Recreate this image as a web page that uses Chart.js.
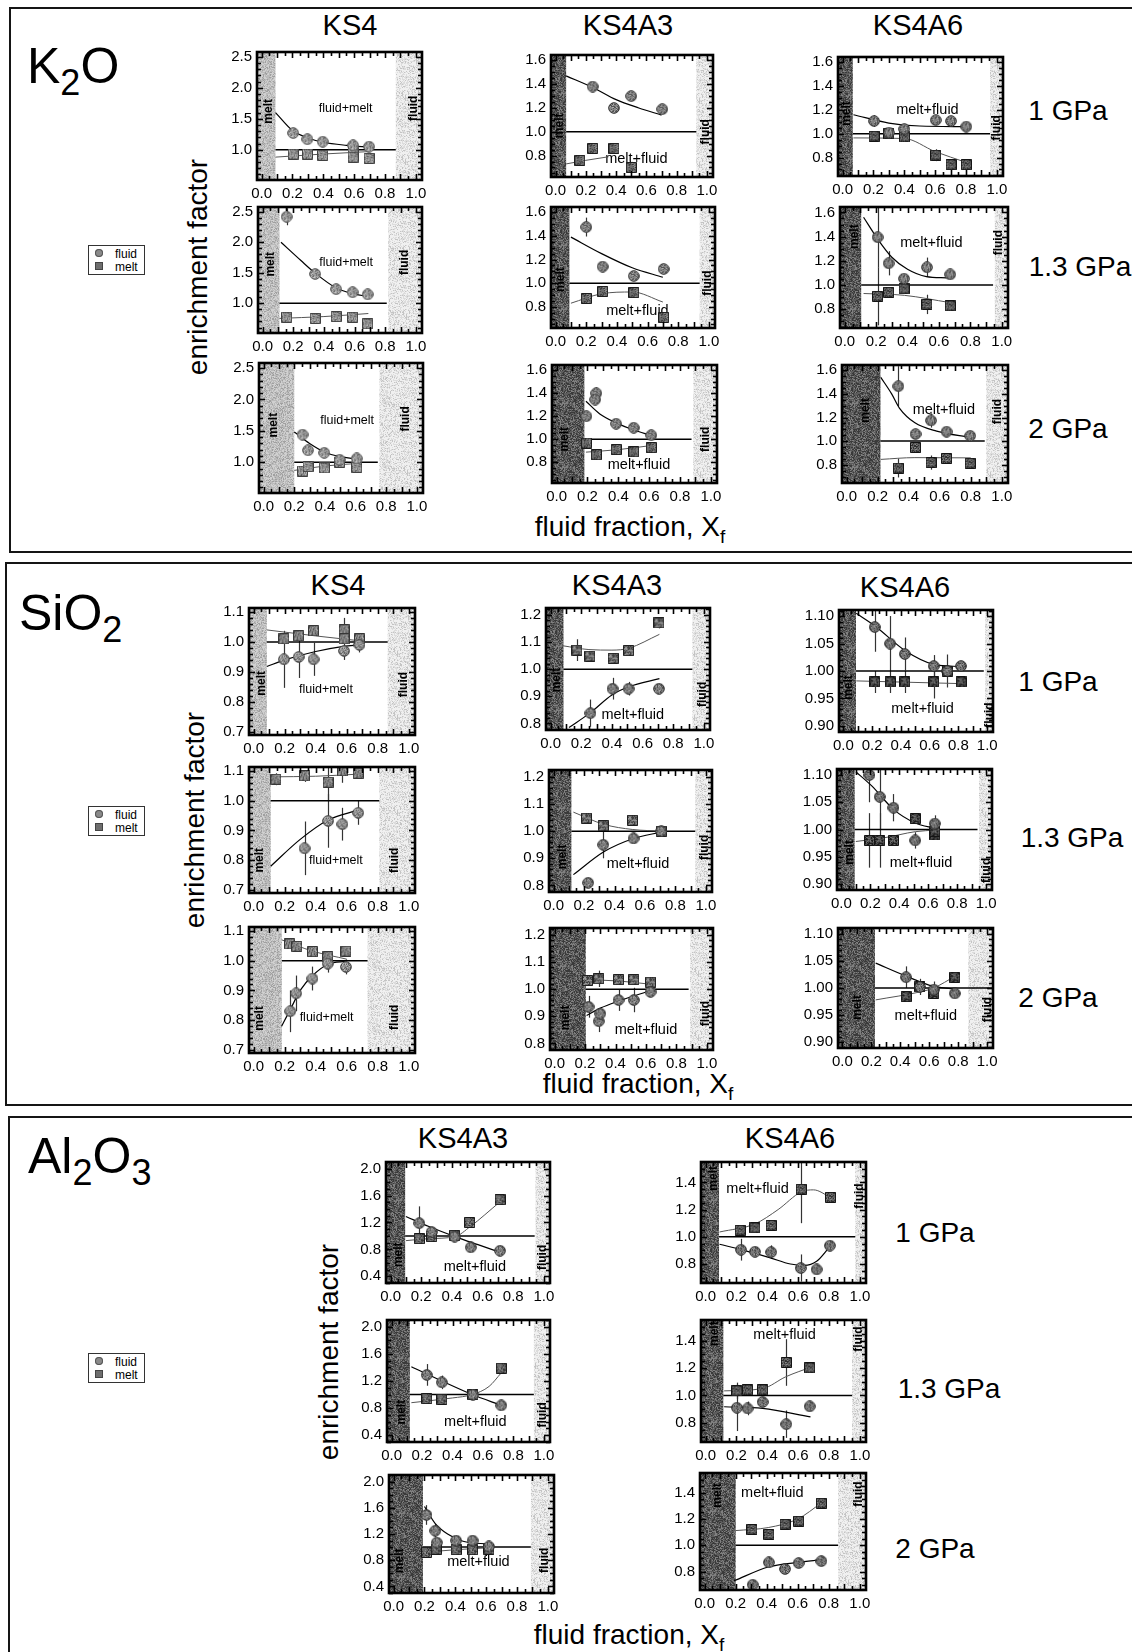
<!DOCTYPE html>
<html>
<head>
<meta charset="utf-8">
<script src="https://cdn.jsdelivr.net/npm/chart.js@4.4.1/dist/chart.umd.min.js"></script>
<style>
  body { margin: 0; background: #fff; width: 1132px; height: 1652px; position: relative; overflow: hidden;
         font-family: "Liberation Sans", Arial, Helvetica, sans-serif; color: #000; }
  .sec { position: absolute; border: 2px solid #151515; }
  .txt { position: absolute; white-space: nowrap; line-height: 1; }
  .txt sub { line-height: 0; }
  canvas { position: absolute; }
  .legend { position: absolute; width: 55px; height: 28px; border: 1px solid #333; font-size: 12px; }
  .legend div { position: absolute; left: 26px; line-height: 1; }
  .legend span { position: absolute; width: 8px; height: 8px; left: 6px; }
  .lc { background: #8a8a8a; border-radius: 50%; box-shadow: inset 0 0 0 1px #555; }
  .ls { background: #6e6e6e; box-shadow: inset 0 0 0 1px #444; }
</style>
</head>
<body>
<script>
const FONT = '"Liberation Sans", Arial, Helvetica, sans-serif';

// ---- shared axes ----
const X_RANGE = [-0.03, 1.04];
const X_TICKS = [0, 0.2, 0.4, 0.6, 0.8, 1.0];
const PRESSURES = ['1 GPa', '1.3 GPa', '2 GPa'];

const K2O_KS4_Y = [0.51, 2.58];
const K2O_KS4_TICKS = [1.0, 1.5, 2.0, 2.5];
const K2O_KS4A3_Y = [0.62, 1.645];
const K2O_KS4A6_Y = [0.645, 1.645];
const K2O_A_TICKS = [0.8, 1.0, 1.2, 1.4, 1.6];
const SIO2_KS4_Y = [0.69, 1.113];
const SIO2_KS4_TICKS = [0.7, 0.8, 0.9, 1.0, 1.1];
const SIO2_KS4A3_Y = [0.776, 1.225];
const SIO2_KS4A3_TICKS = [0.8, 0.9, 1.0, 1.1, 1.2];
const SIO2_KS4A6_Y = [0.889, 1.111];
const SIO2_KS4A6_TICKS = [0.90, 0.95, 1.00, 1.05, 1.10];
const AL2O3_KS4A3_Y = [0.30, 2.10];
const AL2O3_KS4A3_TICKS = [0.4, 0.8, 1.2, 1.6, 2.0];
const AL2O3_KS4A6_Y = [0.66, 1.55];
const AL2O3_KS4A6_TICKS = [0.8, 1.0, 1.2, 1.4];

// ---- data: FIELD = [melt field ends, fluid field starts, line y=1 ends]
// ---- points are [x, enrichment, error]

// K2O / KS4
const K2O_KS4_1_FIELD = [0.09, 0.87, 0.87];
const K2O_KS4_1_FLUID = [[0.205, 1.27], [0.297, 1.17], [0.396, 1.13], [0.593, 1.07], [0.697, 1.05]];
const K2O_KS4_1_MELT = [[0.205, 0.93], [0.297, 0.93], [0.396, 0.91], [0.593, 0.95], [0.593, 0.88], [0.697, 0.86]];
const K2O_KS4_1_FLUID_FIT = [[0.09, 1.60], [0.2, 1.31], [0.3, 1.19], [0.4, 1.12], [0.55, 1.07], [0.7, 1.04]];
const K2O_KS4_1_MELT_FIT = [[0.09, 0.88], [0.4, 0.93], [0.7, 0.97]];

const K2O_KS4_13_FIELD = [0.11, 0.82, 0.81];
const K2O_KS4_13_FLUID = [[0.157, 2.42, 0.14], [0.343, 1.48, 0.06], [0.48, 1.23], [0.587, 1.18], [0.686, 1.145]];
const K2O_KS4_13_MELT = [[0.157, 0.77], [0.343, 0.75], [0.48, 0.78], [0.587, 0.77], [0.686, 0.66]];
const K2O_KS4_13_FLUID_FIT = [[0.12, 2.0], [0.25, 1.7], [0.34, 1.5], [0.48, 1.25], [0.6, 1.15], [0.69, 1.11]];
const K2O_KS4_13_MELT_FIT = [[0.11, 0.75], [0.4, 0.78], [0.69, 0.83]];

const K2O_KS4_2_FIELD = [0.2, 0.755, 0.745];
const K2O_KS4_2_FLUID = [[0.254, 1.44], [0.29, 1.19], [0.396, 1.15, 0.05], [0.496, 1.04], [0.608, 1.06]];
const K2O_KS4_2_MELT = [[0.254, 0.86], [0.29, 0.93], [0.396, 0.91], [0.496, 1.0], [0.608, 0.92]];
const K2O_KS4_2_FLUID_FIT = [[0.2, 1.48], [0.3, 1.3], [0.4, 1.16], [0.5, 1.09], [0.61, 1.05]];
const K2O_KS4_2_MELT_FIT = [[0.2, 0.87], [0.4, 0.94], [0.61, 0.98]];

// K2O / KS4A3
const K2O_KS4A3_1_FIELD = [0.07, 0.93, 0.93];
const K2O_KS4A3_1_FLUID = [[0.245, 1.38], [0.386, 1.20], [0.5, 1.30], [0.705, 1.19]];
const K2O_KS4A3_1_MELT = [[0.16, 0.76], [0.245, 0.86], [0.386, 0.86], [0.5, 0.70]];
const K2O_KS4A3_1_FLUID_FIT = [[0.07, 1.47], [0.25, 1.37], [0.4, 1.27], [0.55, 1.2], [0.7, 1.14]];
const K2O_KS4A3_1_MELT_FIT = [[0.07, 0.73], [0.2, 0.76], [0.35, 0.79]];

const K2O_KS4A3_13_FIELD = [0.09, 0.94, 0.94];
const K2O_KS4A3_13_FLUID = [[0.2, 1.475, 0.08], [0.307, 1.14, 0.04], [0.51, 1.06], [0.705, 1.12]];
const K2O_KS4A3_13_MELT = [[0.2, 0.87], [0.307, 0.93], [0.51, 0.92], [0.705, 0.71]];
const K2O_KS4A3_13_FLUID_FIT = [[0.1, 1.39], [0.3, 1.25], [0.5, 1.13], [0.7, 1.05]];
const K2O_KS4A3_13_MELT_FIT = [[0.1, 0.83], [0.3, 0.91], [0.5, 0.925], [0.7, 0.84]];

const K2O_KS4A3_2_FIELD = [0.18, 0.886, 0.875];
const K2O_KS4A3_2_FLUID = [[0.193, 1.2], [0.257, 1.4, 0.05], [0.25, 1.345], [0.386, 1.135], [0.5, 1.10], [0.614, 1.035]];
const K2O_KS4A3_2_MELT = [[0.193, 0.967], [0.257, 0.865], [0.386, 0.91], [0.5, 0.89], [0.614, 0.927]];
const K2O_KS4A3_2_FLUID_FIT = [[0.19, 1.33], [0.28, 1.22], [0.39, 1.14], [0.5, 1.08], [0.61, 1.035]];
const K2O_KS4A3_2_MELT_FIT = [[0.19, 0.888], [0.4, 0.91], [0.61, 0.945]];

// K2O / KS4A6
const K2O_KS4A6_1_FIELD = [0.066, 0.956, 0.956];
const K2O_KS4A6_1_FLUID = [[0.204, 1.107, 0.05], [0.30, 1.01], [0.40, 1.04], [0.604, 1.115], [0.703, 1.107], [0.802, 1.06]];
const K2O_KS4A6_1_MELT = [[0.204, 0.98], [0.3, 1.0], [0.402, 0.973], [0.604, 0.82, 0.05], [0.703, 0.74], [0.802, 0.74]];
const K2O_KS4A6_1_FLUID_FIT = [[0.07, 1.16], [0.3, 1.09], [0.5, 1.065], [0.8, 1.06]];
const K2O_KS4A6_1_MELT_FIT = [[0.07, 0.965], [0.4, 0.96], [0.6, 0.85], [0.8, 0.76]];

const K2O_KS4A6_13_FIELD = [0.105, 0.956, 0.945];
const K2O_KS4A6_13_FLUID = [[0.21, 1.395, 0.25], [0.28, 1.18, 0.1], [0.378, 1.053], [0.524, 1.147, 0.08], [0.672, 1.088]];
const K2O_KS4A6_13_MELT = [[0.21, 0.907, 0.24], [0.28, 0.94], [0.378, 0.968], [0.524, 0.84, 0.08], [0.672, 0.827]];
const K2O_KS4A6_13_FLUID_FIT = [[0.12, 1.56], [0.21, 1.38], [0.3, 1.23], [0.4, 1.13], [0.52, 1.07], [0.65, 1.06]];
const K2O_KS4A6_13_MELT_FIT = [[0.12, 0.93], [0.38, 0.915], [0.67, 0.855]];

const K2O_KS4A6_2_FIELD = [0.218, 0.9, 0.89];
const K2O_KS4A6_2_FLUID = [[0.333, 1.465, 0.17], [0.444, 1.06], [0.544, 1.175, 0.06], [0.644, 1.08], [0.796, 1.045]];
const K2O_KS4A6_2_MELT = [[0.333, 0.772, 0.08], [0.444, 0.946], [0.544, 0.818, 0.06], [0.644, 0.853], [0.796, 0.812]];
const K2O_KS4A6_2_FLUID_FIT = [[0.22, 1.54], [0.29, 1.4], [0.34, 1.28], [0.44, 1.155], [0.58, 1.085], [0.8, 1.03]];
const K2O_KS4A6_2_MELT_FIT = [[0.22, 0.845], [0.44, 0.86], [0.8, 0.858]];

// SiO2 / KS4
const SIO2_KS4_1_FIELD = [0.085, 0.864, 0.864];
const SIO2_KS4_1_FLUID = [[0.195, 0.942, 0.095], [0.29, 0.95, 0.07], [0.386, 0.942, 0.055], [0.583, 0.97, 0.03], [0.682, 0.99, 0.025]];
const SIO2_KS4_1_MELT = [[0.195, 1.01], [0.29, 1.02], [0.386, 1.037], [0.583, 1.04, 0.04], [0.583, 1.01], [0.682, 1.01]];
const SIO2_KS4_1_FLUID_FIT = [[0.085, 0.918], [0.2, 0.94], [0.4, 0.968], [0.58, 0.985], [0.68, 0.99]];
const SIO2_KS4_1_MELT_FIT = [[0.085, 1.04], [0.4, 1.02], [0.68, 1.004]];

const SIO2_KS4_13_FIELD = [0.11, 0.81, 0.81];
const SIO2_KS4_13_FLUID = [[0.328, 0.84, 0.09], [0.48, 0.932, 0.09], [0.572, 0.921, 0.055], [0.674, 0.959, 0.04]];
const SIO2_KS4_13_MELT = [[0.144, 1.072, 0.02], [0.328, 1.083, 0.02], [0.48, 1.062, 0.06], [0.572, 1.1, 0.04], [0.674, 1.092]];
const SIO2_KS4_13_FLUID_FIT = [[0.11, 0.78], [0.3, 0.87], [0.48, 0.935], [0.67, 0.968]];
const SIO2_KS4_13_MELT_FIT = [[0.117, 1.08], [0.4, 1.082], [0.674, 1.089]];

const SIO2_KS4_2_FIELD = [0.182, 0.734, 0.734];
const SIO2_KS4_2_FLUID = [[0.236, 0.83, 0.07], [0.274, 0.89, 0.06], [0.379, 0.94, 0.04], [0.478, 0.99, 0.03], [0.595, 0.979, 0.025]];
const SIO2_KS4_2_MELT = [[0.231, 1.056], [0.278, 1.048], [0.379, 1.03], [0.478, 1.013], [0.595, 1.032]];
const SIO2_KS4_2_FLUID_FIT = [[0.18, 0.78], [0.24, 0.84], [0.3, 0.9], [0.38, 0.95], [0.48, 0.988], [0.6, 0.998]];
const SIO2_KS4_2_MELT_FIT = [[0.18, 1.07], [0.38, 1.032], [0.6, 1.005]];

// SiO2 / KS4A3
const SIO2_KS4A3_1_FIELD = [0.084, 0.925, 0.925];
const SIO2_KS4A3_1_FLUID = [[0.26, 0.838, 0.05], [0.404, 0.928, 0.04], [0.509, 0.928, 0.025], [0.707, 0.928]];
const SIO2_KS4A3_1_MELT = [[0.172, 1.07, 0.04], [0.256, 1.048], [0.408, 1.04], [0.509, 1.068], [0.707, 1.17, 0.02]];
const SIO2_KS4A3_1_FLUID_FIT = [[0.12, 0.785], [0.26, 0.84], [0.4, 0.905], [0.51, 0.935], [0.71, 0.965]];
const SIO2_KS4A3_1_MELT_FIT = [[0.08, 1.086], [0.25, 1.072], [0.4, 1.07], [0.51, 1.077], [0.71, 1.128]];

const SIO2_KS4A3_13_FIELD = [0.117, 0.93, 0.93];
const SIO2_KS4A3_13_FLUID = [[0.227, 0.81], [0.326, 0.95, 0.05], [0.525, 0.973, 0.02], [0.707, 1.0]];
const SIO2_KS4A3_13_MELT = [[0.216, 1.048], [0.326, 1.02], [0.518, 1.04], [0.707, 1.0]];
const SIO2_KS4A3_13_FLUID_FIT = [[0.13, 0.84], [0.33, 0.924], [0.52, 0.972], [0.71, 0.997]];
const SIO2_KS4A3_13_MELT_FIT = [[0.13, 1.07], [0.33, 1.025], [0.52, 1.006], [0.71, 1.0]];

const SIO2_KS4A3_2_FIELD = [0.205, 0.89, 0.88];
const SIO2_KS4A3_2_FLUID = [[0.223, 0.935, 0.04], [0.29, 0.882, 0.04], [0.3, 0.91], [0.42, 0.96, 0.04], [0.52, 0.96, 0.045], [0.63, 0.99]];
const SIO2_KS4A3_2_MELT = [[0.216, 1.032], [0.29, 1.038, 0.03], [0.42, 1.035], [0.52, 1.035], [0.63, 1.026]];
const SIO2_KS4A3_2_FLUID_FIT = [[0.21, 0.903], [0.3, 0.93], [0.42, 0.956], [0.63, 0.995]];
const SIO2_KS4A3_2_MELT_FIT = [[0.2, 1.035], [0.42, 1.03], [0.63, 1.018]];

// SiO2 / KS4A6
const SIO2_KS4A6_1_FIELD = [0.088, 0.985, 0.976];
const SIO2_KS4A6_1_FLUID = [[0.218, 1.08, 0.045], [0.325, 1.05, 0.05], [0.427, 1.031, 0.03], [0.628, 1.009, 0.02], [0.723, 1.0, 0.03], [0.818, 1.009]];
const SIO2_KS4A6_1_MELT = [[0.218, 0.98, 0.02], [0.325, 0.98, 0.02], [0.427, 0.98, 0.02], [0.628, 0.98, 0.03], [0.723, 1.0], [0.818, 0.98]];
const SIO2_KS4A6_1_FLUID_FIT = [[0.09, 1.105], [0.22, 1.082], [0.43, 1.037], [0.63, 1.012], [0.82, 1.008]];
const SIO2_KS4A6_1_MELT_FIT = [[0.09, 0.982], [0.82, 0.977]];

const SIO2_KS4A6_13_FIELD = [0.092, 0.95, 0.94];
const SIO2_KS4A6_13_FLUID = [[0.194, 1.10, 0.05], [0.265, 1.06, 0.06], [0.36, 1.04, 0.025], [0.51, 0.98, 0.015], [0.645, 1.011, 0.015]];
const SIO2_KS4A6_13_MELT = [[0.194, 0.98, 0.05], [0.265, 0.98, 0.05], [0.36, 0.98], [0.51, 1.02, 0.01], [0.645, 0.99], [0.645, 0.997]];
const SIO2_KS4A6_13_FLUID_FIT = [[0.1, 1.106], [0.21, 1.08], [0.36, 1.037], [0.51, 1.012], [0.65, 1.002]];
const SIO2_KS4A6_13_MELT_FIT = [[0.1, 0.978], [0.3, 0.985], [0.51, 0.996], [0.65, 0.999]];

const SIO2_KS4A6_2_FIELD = [0.225, 0.87, 1.04];
const SIO2_KS4A6_2_FLUID = [[0.44, 1.02, 0.02], [0.536, 1.002, 0.015], [0.631, 0.997, 0.015], [0.776, 0.99]];
const SIO2_KS4A6_2_MELT = [[0.44, 0.984], [0.536, 1.002], [0.631, 0.99], [0.776, 1.02]];
const SIO2_KS4A6_2_FLUID_FIT = [[0.23, 1.046], [0.44, 1.022], [0.63, 1.003], [0.78, 0.998]];
const SIO2_KS4A6_2_MELT_FIT = [[0.23, 0.978], [0.54, 0.993], [0.63, 1.0], [0.78, 1.022]];

// Al2O3 / KS4A3
const AL2O3_KS4A3_1_FIELD = [0.095, 0.945, 0.94];
const AL2O3_KS4A3_1_FLUID = [[0.187, 1.19, 0.25], [0.268, 1.06], [0.418, 0.99], [0.523, 0.83], [0.714, 0.78]];
const AL2O3_KS4A3_1_MELT = [[0.187, 0.96], [0.268, 0.99], [0.418, 1.01], [0.516, 1.2], [0.714, 1.54]];
const AL2O3_KS4A3_1_FLUID_FIT = [[0.1, 1.29], [0.25, 1.14], [0.42, 0.99], [0.57, 0.87], [0.71, 0.76]];
const AL2O3_KS4A3_1_MELT_FIT = [[0.1, 0.93], [0.25, 0.96], [0.42, 0.99], [0.52, 1.14], [0.71, 1.5]];

const AL2O3_KS4A3_13_FIELD = [0.12, 0.934, 0.934];
const AL2O3_KS4A3_13_FLUID = [[0.231, 1.29, 0.16], [0.33, 1.18, 0.1], [0.534, 1.0], [0.72, 0.84]];
const AL2O3_KS4A3_13_MELT = [[0.231, 0.94], [0.33, 0.93], [0.534, 1.0], [0.72, 1.39]];
const AL2O3_KS4A3_13_FLUID_FIT = [[0.13, 1.41], [0.33, 1.2], [0.53, 1.0], [0.72, 0.84]];
const AL2O3_KS4A3_13_MELT_FIT = [[0.13, 0.88], [0.4, 0.95], [0.53, 1.0], [0.64, 1.12], [0.72, 1.32]];

const AL2O3_KS4A3_2_FIELD = [0.19, 0.89, 0.89];
const AL2O3_KS4A3_2_FLUID = [[0.213, 1.49, 0.15], [0.27, 1.25, 0.1], [0.28, 1.07], [0.405, 1.1], [0.512, 1.1, 0.06], [0.618, 1.01]];
const AL2O3_KS4A3_2_MELT = [[0.213, 0.92], [0.276, 0.97], [0.405, 0.96], [0.512, 0.96], [0.618, 0.97]];
const AL2O3_KS4A3_2_FLUID_FIT = [[0.2, 1.62], [0.27, 1.36], [0.35, 1.2], [0.45, 1.09], [0.62, 1.045]];
const AL2O3_KS4A3_2_MELT_FIT = [[0.2, 0.92], [0.4, 0.96], [0.62, 0.99]];

// Al2O3 / KS4A6
const AL2O3_KS4A6_1_FIELD = [0.087, 0.97, 0.97];
const AL2O3_KS4A6_1_FLUID = [[0.229, 0.905, 0.08], [0.32, 0.89], [0.425, 0.887, 0.05], [0.617, 0.77, 0.1], [0.72, 0.76], [0.806, 0.935]];
const AL2O3_KS4A6_1_MELT = [[0.224, 1.048], [0.32, 1.065], [0.425, 1.084], [0.62, 1.35, 0.25], [0.81, 1.29]];
const AL2O3_KS4A6_1_FLUID_FIT = [[0.09, 0.945], [0.25, 0.9], [0.42, 0.845], [0.55, 0.8], [0.64, 0.79], [0.72, 0.82], [0.8, 0.92]];
const AL2O3_KS4A6_1_MELT_FIT = [[0.09, 1.035], [0.32, 1.095], [0.47, 1.2], [0.62, 1.33], [0.7, 1.345], [0.81, 1.29]];

const AL2O3_KS4A6_13_FIELD = [0.115, 0.95, 0.95];
const AL2O3_KS4A6_13_FLUID = [[0.203, 0.91, 0.17], [0.272, 0.905, 0.05], [0.37, 0.952], [0.523, 0.79, 0.1], [0.675, 0.92]];
const AL2O3_KS4A6_13_MELT = [[0.203, 1.033, 0.06], [0.272, 1.04], [0.37, 1.04], [0.523, 1.24, 0.17], [0.675, 1.2]];
const AL2O3_KS4A6_13_FLUID_FIT = [[0.12, 0.917], [0.37, 0.905], [0.68, 0.843]];
const AL2O3_KS4A6_13_MELT_FIT = [[0.12, 1.033], [0.37, 1.05], [0.52, 1.136], [0.68, 1.205]];

const AL2O3_KS4A6_2_FIELD = [0.2, 0.86, 0.86];
const AL2O3_KS4A6_2_FLUID = [[0.31, 0.7], [0.414, 0.87, 0.04], [0.518, 0.82], [0.606, 0.865], [0.752, 0.88]];
const AL2O3_KS4A6_2_MELT = [[0.305, 1.12], [0.414, 1.083], [0.518, 1.16], [0.606, 1.183], [0.752, 1.32]];
const AL2O3_KS4A6_2_FLUID_FIT = [[0.19, 0.73], [0.41, 0.835], [0.6, 0.87], [0.75, 0.89]];
const AL2O3_KS4A6_2_MELT_FIT = [[0.2, 1.112], [0.41, 1.135], [0.6, 1.2], [0.75, 1.32]];

// ---- axis styles per sample column
const AX = {
  K2O_KS4:     { range: K2O_KS4_Y, ticks: K2O_KS4_TICKS, dec: 1, minor: 5, dark: false, mix: 12.5, mk: [160, 145] },
  K2O_KS4A3:   { range: K2O_KS4A3_Y, ticks: K2O_A_TICKS, dec: 1, minor: 4, dark: true, mix: 14.5, mk: [135, 108] },
  K2O_KS4A6:   { range: K2O_KS4A6_Y, ticks: K2O_A_TICKS, dec: 1, minor: 4, dark: true, mix: 14.5, mk: [130, 98] },
  SIO2_KS4:    { range: SIO2_KS4_Y, ticks: SIO2_KS4_TICKS, dec: 1, minor: 5, dark: false, mix: 12.5, mk: [145, 135] },
  SIO2_KS4A3:  { range: SIO2_KS4A3_Y, ticks: SIO2_KS4A3_TICKS, dec: 1, minor: 5, dark: true, mix: 14.5, mk: [128, 112] },
  SIO2_KS4A6:  { range: SIO2_KS4A6_Y, ticks: SIO2_KS4A6_TICKS, dec: 2, minor: 5, dark: true, mix: 14.5, mk: [118, 78] },
  AL2O3_KS4A3: { range: AL2O3_KS4A3_Y, ticks: AL2O3_KS4A3_TICKS, dec: 1, minor: 4, dark: true, mix: 14.5, mk: [128, 105] },
  AL2O3_KS4A6: { range: AL2O3_KS4A6_Y, ticks: AL2O3_KS4A6_TICKS, dec: 1, minor: 4, dark: true, mix: 14.5, mk: [122, 98] }
};

function panel(ax, box, field, fluid, melt, fluidFit, meltFit, lab) {
  return { ax: AX[ax], box, field, fluid, melt, fluidFit, meltFit, lab };
}

// plot boxes [left, top, right, bottom]; label spots in data units
const PANELS = [
  panel('K2O_KS4', [257, 47, 422, 180], K2O_KS4_1_FIELD, K2O_KS4_1_FLUID, K2O_KS4_1_MELT, K2O_KS4_1_FLUID_FIT, K2O_KS4_1_MELT_FIT,
        { mix: [0.545, 1.67, 'fluid+melt'], melt: [0.045, 1.62], fluid: [0.985, 1.67] }),
  panel('K2O_KS4', [258, 202, 422, 333], K2O_KS4_13_FIELD, K2O_KS4_13_FLUID, K2O_KS4_13_MELT, K2O_KS4_13_FLUID_FIT, K2O_KS4_13_MELT_FIT,
        { mix: [0.545, 1.67, 'fluid+melt'], melt: [0.055, 1.64], fluid: [0.926, 1.67] }),
  panel('K2O_KS4', [259, 358, 423, 493], K2O_KS4_2_FIELD, K2O_KS4_2_FLUID, K2O_KS4_2_MELT, K2O_KS4_2_FLUID_FIT, K2O_KS4_2_MELT_FIT,
        { mix: [0.545, 1.66, 'fluid+melt'], melt: [0.068, 1.59], fluid: [0.926, 1.69] }),

  panel('K2O_KS4A3', [551, 50, 713, 177], K2O_KS4A3_1_FIELD, K2O_KS4A3_1_FLUID, K2O_KS4A3_1_MELT, K2O_KS4A3_1_FLUID_FIT, K2O_KS4A3_1_MELT_FIT,
        { mix: [0.534, 0.77, 'melt+fluid'], melt: [0.03, 1.05], fluid: [0.99, 1.0] }),
  panel('K2O_KS4A3', [551, 202, 715, 328], K2O_KS4A3_13_FIELD, K2O_KS4A3_13_FLUID, K2O_KS4A3_13_MELT, K2O_KS4A3_13_FLUID_FIT, K2O_KS4A3_13_MELT_FIT,
        { mix: [0.534, 0.76, 'melt+fluid'], melt: [0.035, 1.03], fluid: [0.995, 1.0] }),
  panel('K2O_KS4A3', [552, 360, 717, 483], K2O_KS4A3_2_FIELD, K2O_KS4A3_2_FLUID, K2O_KS4A3_2_MELT, K2O_KS4A3_2_FLUID_FIT, K2O_KS4A3_2_MELT_FIT,
        { mix: [0.534, 0.78, 'melt+fluid'], melt: [0.05, 1.0], fluid: [0.966, 1.0] }),

  panel('K2O_KS4A6', [838, 52, 1003, 176], K2O_KS4A6_1_FIELD, K2O_KS4A6_1_FLUID, K2O_KS4A6_1_MELT, K2O_KS4A6_1_FLUID_FIT, K2O_KS4A6_1_MELT_FIT,
        { mix: [0.55, 1.2, 'melt+fluid'], melt: [0.025, 1.17], fluid: [1.0, 1.05] }),
  panel('K2O_KS4A6', [840, 202, 1008, 328], K2O_KS4A6_13_FIELD, K2O_KS4A6_13_FLUID, K2O_KS4A6_13_MELT, K2O_KS4A6_13_FLUID_FIT, K2O_KS4A6_13_MELT_FIT,
        { mix: [0.552, 1.35, 'melt+fluid'], melt: [0.065, 1.4], fluid: [0.98, 1.35] }),
  panel('K2O_KS4A6', [842, 360, 1008, 483], K2O_KS4A6_2_FIELD, K2O_KS4A6_2_FLUID, K2O_KS4A6_2_MELT, K2O_KS4A6_2_FLUID_FIT, K2O_KS4A6_2_MELT_FIT,
        { mix: [0.627, 1.26, 'melt+fluid'], melt: [0.122, 1.26], fluid: [0.973, 1.25] }),

  panel('SIO2_KS4', [249, 603, 415, 735], SIO2_KS4_1_FIELD, SIO2_KS4_1_FLUID, SIO2_KS4_1_MELT, SIO2_KS4_1_FLUID_FIT, SIO2_KS4_1_MELT_FIT,
        { mix: [0.466, 0.843, 'fluid+melt'], melt: [0.05, 0.862], fluid: [0.965, 0.858] }),
  panel('SIO2_KS4', [249, 762, 415, 893], SIO2_KS4_13_FIELD, SIO2_KS4_13_FLUID, SIO2_KS4_13_MELT, SIO2_KS4_13_FLUID_FIT, SIO2_KS4_13_MELT_FIT,
        { mix: [0.53, 0.8, 'fluid+melt'], melt: [0.042, 0.8], fluid: [0.91, 0.8] }),
  panel('SIO2_KS4', [249, 922, 415, 1053], SIO2_KS4_2_FIELD, SIO2_KS4_2_FLUID, SIO2_KS4_2_MELT, SIO2_KS4_2_FLUID_FIT, SIO2_KS4_2_MELT_FIT,
        { mix: [0.47, 0.81, 'fluid+melt'], melt: [0.04, 0.806], fluid: [0.91, 0.81] }),

  panel('SIO2_KS4A3', [546, 603, 710, 730], SIO2_KS4A3_1_FIELD, SIO2_KS4A3_1_FLUID, SIO2_KS4A3_1_MELT, SIO2_KS4A3_1_FLUID_FIT, SIO2_KS4A3_1_MELT_FIT,
        { mix: [0.536, 0.83, 'melt+fluid'], melt: [0.04, 0.96], fluid: [0.99, 0.907] }),
  panel('SIO2_KS4A3', [549, 765, 712, 892], SIO2_KS4A3_13_FIELD, SIO2_KS4A3_13_FLUID, SIO2_KS4A3_13_MELT, SIO2_KS4A3_13_FLUID_FIT, SIO2_KS4A3_13_MELT_FIT,
        { mix: [0.554, 0.88, 'melt+fluid'], melt: [0.06, 0.905], fluid: [0.99, 0.94] }),
  panel('SIO2_KS4A3', [550, 923, 713, 1050], SIO2_KS4A3_2_FIELD, SIO2_KS4A3_2_FLUID, SIO2_KS4A3_2_MELT, SIO2_KS4A3_2_FLUID_FIT, SIO2_KS4A3_2_MELT_FIT,
        { mix: [0.6, 0.85, 'melt+fluid'], melt: [0.07, 0.894], fluid: [0.99, 0.91] }),

  panel('SIO2_KS4A6', [839, 605, 993, 732], SIO2_KS4A6_1_FIELD, SIO2_KS4A6_1_FLUID, SIO2_KS4A6_1_MELT, SIO2_KS4A6_1_FLUID_FIT, SIO2_KS4A6_1_MELT_FIT,
        { mix: [0.55, 0.93, 'melt+fluid'], melt: [0.04, 0.97], fluid: [1.015, 0.92] }),
  panel('SIO2_KS4A6', [837, 764, 992, 890], SIO2_KS4A6_13_FIELD, SIO2_KS4A6_13_FLUID, SIO2_KS4A6_13_MELT, SIO2_KS4A6_13_FLUID_FIT, SIO2_KS4A6_13_MELT_FIT,
        { mix: [0.55, 0.939, 'melt+fluid'], melt: [0.06, 0.958], fluid: [1.0, 0.925] }),
  panel('SIO2_KS4A6', [838, 923, 993, 1048], SIO2_KS4A6_2_FIELD, SIO2_KS4A6_2_FLUID, SIO2_KS4A6_2_MELT, SIO2_KS4A6_2_FLUID_FIT, SIO2_KS4A6_2_MELT_FIT,
        { mix: [0.576, 0.948, 'melt+fluid'], melt: [0.105, 0.964], fluid: [1.0, 0.96] }),

  panel('AL2O3_KS4A3', [386, 1157, 550, 1283], AL2O3_KS4A3_1_FIELD, AL2O3_KS4A3_1_FLUID, AL2O3_KS4A3_1_MELT, AL2O3_KS4A3_1_FLUID_FIT, AL2O3_KS4A3_1_MELT_FIT,
        { mix: [0.55, 0.54, 'melt+fluid'], melt: [0.05, 0.72], fluid: [0.99, 0.68] }),
  panel('AL2O3_KS4A3', [387, 1315, 550, 1442], AL2O3_KS4A3_13_FIELD, AL2O3_KS4A3_13_FLUID, AL2O3_KS4A3_13_MELT, AL2O3_KS4A3_13_FLUID_FIT, AL2O3_KS4A3_13_MELT_FIT,
        { mix: [0.55, 0.6, 'melt+fluid'], melt: [0.066, 0.74], fluid: [0.99, 0.7] }),
  panel('AL2O3_KS4A3', [389, 1470, 554, 1593], AL2O3_KS4A3_2_FIELD, AL2O3_KS4A3_2_FLUID, AL2O3_KS4A3_2_MELT, AL2O3_KS4A3_2_FLUID_FIT, AL2O3_KS4A3_2_MELT_FIT,
        { mix: [0.55, 0.77, 'melt+fluid'], melt: [0.04, 0.79], fluid: [0.98, 0.8] }),

  panel('AL2O3_KS4A6', [701, 1157, 866, 1283], AL2O3_KS4A6_1_FIELD, AL2O3_KS4A6_1_FLUID, AL2O3_KS4A6_1_MELT, AL2O3_KS4A6_1_FLUID_FIT, AL2O3_KS4A6_1_MELT_FIT,
        { mix: [0.337, 1.35, 'melt+fluid'], melt: [0.05, 1.43], fluid: [1.0, 1.3] }),
  panel('AL2O3_KS4A6', [701, 1315, 866, 1442], AL2O3_KS4A6_13_FIELD, AL2O3_KS4A6_13_FLUID, AL2O3_KS4A6_13_MELT, AL2O3_KS4A6_13_FLUID_FIT, AL2O3_KS4A6_13_MELT_FIT,
        { mix: [0.512, 1.44, 'melt+fluid'], melt: [0.06, 1.45], fluid: [0.99, 1.41] }),
  panel('AL2O3_KS4A6', [700, 1468, 866, 1590], AL2O3_KS4A6_2_FIELD, AL2O3_KS4A6_2_FLUID, AL2O3_KS4A6_2_MELT, AL2O3_KS4A6_2_FLUID_FIT, AL2O3_KS4A6_2_MELT_FIT,
        { mix: [0.436, 1.4, 'melt+fluid'], melt: [0.087, 1.38], fluid: [0.99, 1.39] })
];

// ---- page text
const SECTIONS = [[9, 7, 1140, 542], [5, 562, 1140, 540], [8, 1116, 1140, 600]];
const OXIDE_LABELS = [['K<sub>2</sub>O', 27, 83], ['SiO<sub>2</sub>', 19, 630], ['Al<sub>2</sub>O<sub>3</sub>', 28, 1173]];
const TITLES = [['KS4', 350, 25], ['KS4A3', 628, 25], ['KS4A6', 918, 25],
                ['KS4', 338, 585], ['KS4A3', 617, 585], ['KS4A6', 905, 587],
                ['KS4A3', 463, 1138], ['KS4A6', 790, 1138]];
const GPA_SPOTS = [[1068, 111], [1080, 267], [1068, 429],
                   [1058, 682], [1072, 838], [1058, 998],
                   [935, 1233], [949, 1389], [935, 1549]];
const Y_TITLES = [[198, 267], [195, 820], [329, 1352]];
const X_TITLES = [[630, 527], [638, 1084], [629, 1635]];
const LEGENDS = [[88, 245], [88, 806], [88, 1353]];

function addText(html, x, y, size, rotate) {
  const d = document.createElement('div');
  d.className = 'txt';
  d.innerHTML = html;
  d.style.fontSize = size + 'px';
  d.style.left = x + 'px';
  d.style.top = y + 'px';
  d.style.transform = 'translate(-50%, -50%)' + (rotate ? ' rotate(-90deg)' : '');
  document.body.appendChild(d);
}

SECTIONS.forEach(([l, t, w, h]) => {
  const d = document.createElement('div');
  d.className = 'sec';
  Object.assign(d.style, { left: l + 'px', top: t + 'px', width: w + 'px', height: h + 'px' });
  document.body.appendChild(d);
});
OXIDE_LABELS.forEach(([html, x, base]) => {
  const d = document.createElement('div');
  d.className = 'txt';
  d.innerHTML = html.replace(/<sub>/g, '<sub style="font-size:36px;vertical-align:-12px">');
  Object.assign(d.style, { fontSize: '50px', left: x + 'px', top: (base - 42) + 'px' });
  document.body.appendChild(d);
});
TITLES.forEach(([t, x, y]) => addText(t, x, y, 29));
GPA_SPOTS.forEach(([x, y], i) => addText(PRESSURES[i % 3], x, y, 28));
Y_TITLES.forEach(([x, y]) => addText('enrichment factor', x, y, 28, true));
X_TITLES.forEach(([x, y]) => addText('fluid fraction, X<sub style="font-size:19px;vertical-align:-7px">f</sub>', x, y, 28));
LEGENDS.forEach(([x, y]) => {
  const d = document.createElement('div');
  d.className = 'legend';
  d.style.left = x + 'px';
  d.style.top = y + 'px';
  d.innerHTML = '<span class="lc" style="top:3px"></span><div style="top:2px">fluid</div>' +
                '<span class="ls" style="top:16px"></span><div style="top:15px">melt</div>';
  document.body.appendChild(d);
});

// ---- textures (deterministic stipple)
function hash(i, j, s) {
  let h = Math.imul(i + 11, 374761393) ^ Math.imul(j + 7, 668265263) ^ Math.imul(s + 3, 362437);
  h = Math.imul(h ^ (h >>> 13), 1274126177);
  return ((h ^ (h >>> 16)) >>> 0) / 4294967296;
}
function texture(levels, seed) {
  const c = document.createElement('canvas');
  c.width = c.height = 64;
  const g = c.getContext('2d');
  const img = g.createImageData(64, 64);
  for (let j = 0; j < 64; j++) {
    for (let i = 0; i < 64; i++) {
      const r = hash(i, j, seed);
      let v = levels[levels.length - 1][1];
      for (const [th, val] of levels) { if (r < th) { v = val; break; } }
      const k = (j * 64 + i) * 4;
      img.data[k] = img.data[k + 1] = img.data[k + 2] = v;
      img.data[k + 3] = 255;
    }
  }
  g.putImageData(img, 0, 0);
  return c;
}
const TEX = {
  meltDark: texture([[0.35, 58], [0.78, 92], [1, 128]], 1),
  meltLight: texture([[0.2, 160], [0.65, 186], [1, 208]], 2),
  fluid: texture([[0.15, 196], [0.5, 220], [1, 240]], 3)
};

const markerCache = {};
function marker(shape, base) {
  const key = shape + base;
  if (markerCache[key]) return markerCache[key];
  const s = shape === 'circle' ? 12 : 11;
  const c = document.createElement('canvas');
  c.width = c.height = s;
  const g = c.getContext('2d');
  g.save();
  g.beginPath();
  if (shape === 'circle') g.arc(s / 2, s / 2, s / 2 - 0.7, 0, Math.PI * 2);
  else g.rect(0.5, 0.5, s - 1, s - 1);
  g.clip();
  g.fillStyle = `rgb(${base},${base},${base})`;
  g.fillRect(0, 0, s, s);
  for (let j = 0; j < s; j++) {
    for (let i = 0; i < s; i++) {
      const r = hash(i, j, base + s);
      if (r < 0.3) { const v = base - 50; g.fillStyle = `rgb(${v},${v},${v})`; g.fillRect(i, j, 1, 1); }
      else if (r > 0.86) { const v = Math.min(230, base + 40); g.fillStyle = `rgb(${v},${v},${v})`; g.fillRect(i, j, 1, 1); }
    }
  }
  g.restore();
  const e = Math.max(20, base - 80);
  g.strokeStyle = `rgb(${e},${e},${e})`;
  g.lineWidth = 1;
  g.beginPath();
  if (shape === 'circle') g.arc(s / 2, s / 2, s / 2 - 0.7, 0, Math.PI * 2);
  else g.rect(0.5, 0.5, s - 1, s - 1);
  g.stroke();
  markerCache[key] = c;
  return c;
}

function decoPlugin(p) {
  return {
    id: 'deco',
    beforeDatasetsDraw(chart) {
      const { ctx, chartArea: a, scales: { x, y } } = chart;
      ctx.save();
      ctx.beginPath();
      ctx.rect(a.left, a.top, a.width, a.height);
      ctx.clip();
      const xm = x.getPixelForValue(p.field[0]);
      const xf = x.getPixelForValue(p.field[1]);
      ctx.fillStyle = ctx.createPattern(p.ax.dark ? TEX.meltDark : TEX.meltLight, 'repeat');
      ctx.fillRect(a.left, a.top, xm - a.left, a.height);
      ctx.fillStyle = ctx.createPattern(TEX.fluid, 'repeat');
      ctx.fillRect(xf, a.top, a.right - xf, a.height);

      ctx.fillStyle = '#000';
      ctx.textAlign = 'center';
      ctx.textBaseline = 'middle';
      ctx.font = `${p.ax.mix}px ${FONT}`;
      ctx.fillText(p.lab.mix[2], x.getPixelForValue(p.lab.mix[0]), y.getPixelForValue(p.lab.mix[1]));
      ctx.font = `bold 12px ${FONT}`;
      ['melt', 'fluid'].forEach(word => {
        ctx.save();
        ctx.translate(x.getPixelForValue(p.lab[word][0]), y.getPixelForValue(p.lab[word][1]));
        ctx.rotate(-Math.PI / 2);
        ctx.fillText(word, 0, 0);
        ctx.restore();
      });

      // error bars
      ctx.strokeStyle = '#333';
      ctx.lineWidth = 1.2;
      [p.fluid, p.melt].forEach(pts => pts.forEach(([px, py, e]) => {
        if (!e) return;
        const cx = Math.round(x.getPixelForValue(px)) + 0.5;
        ctx.beginPath();
        ctx.moveTo(cx, y.getPixelForValue(py - e));
        ctx.lineTo(cx, y.getPixelForValue(py + e));
        ctx.stroke();
      }));
      ctx.restore();
    },
    afterDraw(chart) {
      const { ctx, chartArea: a, scales: { x, y } } = chart;
      ctx.save();
      ctx.strokeStyle = '#000';
      ctx.lineWidth = 1.6;
      const tick = (x1, y1, x2, y2) => { ctx.beginPath(); ctx.moveTo(x1, y1); ctx.lineTo(x2, y2); ctx.stroke(); };
      // x ticks every 0.05, longer at 0.1
      for (let k = 0; k <= 20; k++) {
        const px = Math.round(x.getPixelForValue(k * 0.05)) + 0.5;
        const len = k % 2 === 0 ? 6 : 4;
        tick(px, a.bottom, px, a.bottom - len);
        tick(px, a.top, px, a.top + len);
      }
      // y ticks
      const t = p.ax.ticks;
      const minor = (t[1] - t[0]) / p.ax.minor;
      const n0 = Math.ceil((p.ax.range[0] - t[0]) / minor - 1e-6);
      const n1 = Math.floor((p.ax.range[1] - t[0]) / minor + 1e-6);
      for (let n = n0; n <= n1; n++) {
        const py = Math.round(y.getPixelForValue(t[0] + n * minor)) + 0.5;
        const len = n % p.ax.minor === 0 ? 6 : 4;
        tick(a.left, py, a.left + len, py);
        tick(a.right, py, a.right - len, py);
      }
      ctx.lineWidth = 2.6;
      ctx.strokeRect(a.left, a.top, a.width, a.height);
      ctx.restore();
    }
  };
}

const toXY = arr => arr.map(([x, y, err]) => ({ x, y, err: err || 0 }));

function makePanel(p) {
  const padL = 40, padT = 9, padR = 16, padB = 24;
  const [L, T, R, B] = p.box;
  const w = R - L + padL + padR, h = B - T + padT + padB;
  const cv = document.createElement('canvas');
  cv.width = w;
  cv.height = h;
  Object.assign(cv.style, { left: (L - padL) + 'px', top: (T - padT) + 'px', width: w + 'px', height: h + 'px' });
  document.body.appendChild(cv);

  const tickFont = { size: 15, family: FONT };
  new Chart(cv, {
    type: 'scatter',
    data: {
      datasets: [
        { data: toXY(p.fluid), pointStyle: marker('circle', p.ax.mk[0]), order: 0 },
        { data: toXY(p.melt), pointStyle: marker('rect', p.ax.mk[1]), order: 0 },
        { data: toXY(p.fluidFit), showLine: true, pointRadius: 0, borderColor: '#000', borderWidth: 1.2,
          cubicInterpolationMode: 'monotone', order: 1 },
        { data: toXY(p.meltFit), showLine: true, pointRadius: 0, borderColor: '#555', borderWidth: 1,
          cubicInterpolationMode: 'monotone', order: 1 },
        { data: [{ x: p.field[0], y: 1 }, { x: p.field[2], y: 1 }], showLine: true, pointRadius: 0,
          borderColor: '#000', borderWidth: 1.5, order: 2 }
      ]
    },
    options: {
      responsive: false,
      animation: false,
      devicePixelRatio: 1,
      events: [],
      layout: { padding: { top: padT, right: padR, left: 0, bottom: 0 } },
      plugins: { legend: { display: false }, tooltip: { enabled: false } },
      scales: {
        x: {
          type: 'linear', min: X_RANGE[0], max: X_RANGE[1],
          afterBuildTicks: s => { s.ticks = X_TICKS.map(v => ({ value: v })); },
          afterFit: s => { s.height = padB; },
          grid: { display: false, drawTicks: false }, border: { display: false },
          ticks: { padding: 5, color: '#000', font: tickFont, maxRotation: 0, autoSkip: false,
                   callback: v => Number(v).toFixed(1) }
        },
        y: {
          type: 'linear', min: p.ax.range[0], max: p.ax.range[1],
          afterBuildTicks: s => { s.ticks = p.ax.ticks.map(v => ({ value: v })); },
          afterFit: s => { s.width = padL; },
          grid: { display: false, drawTicks: false }, border: { display: false },
          ticks: { padding: 5, color: '#000', font: tickFont, autoSkip: false,
                   callback: v => Number(v).toFixed(p.ax.dec) }
        }
      }
    },
    plugins: [decoPlugin(p)]
  });
}

PANELS.forEach(makePanel);
</script>
</body>
</html>
